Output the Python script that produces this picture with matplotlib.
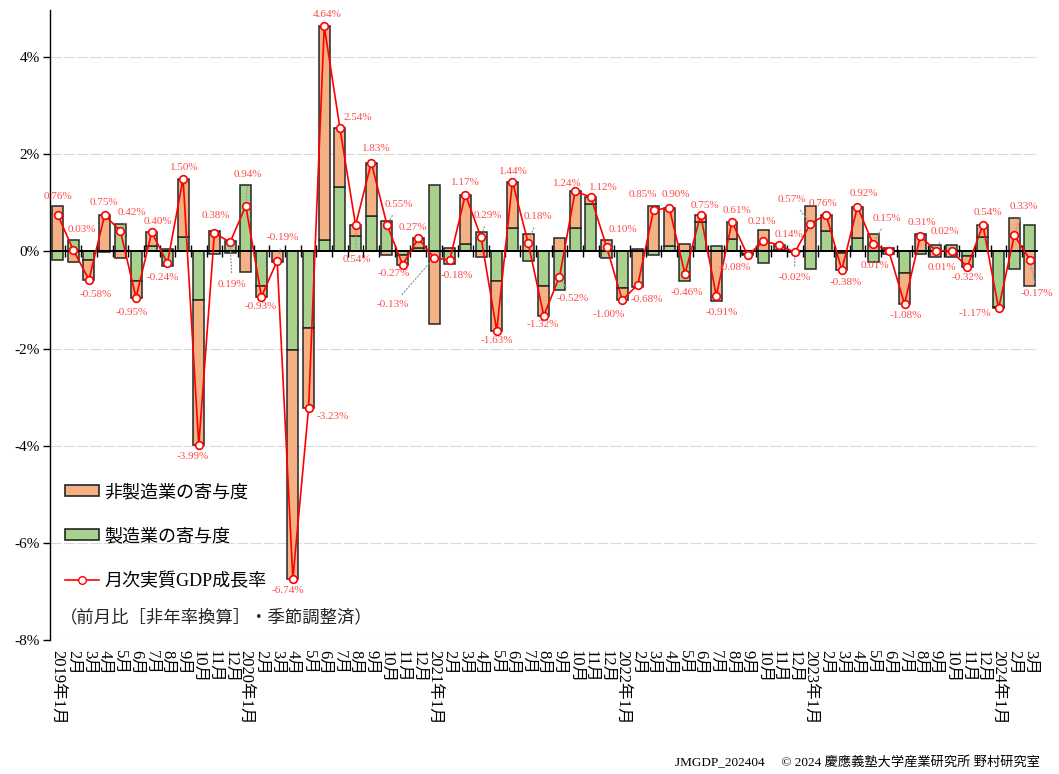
import numpy as np
import matplotlib.pyplot as plt
from matplotlib.patches import Patch
from matplotlib.lines import Line2D

plt.rcParams['font.family'] = ['Liberation Serif', 'Noto Sans CJK JP', 'DejaVu Sans']

# 2019年1月 .. 2024年3月
years = [2019] * 12 + [2020] * 12 + [2021] * 12 + [2022] * 12 + [2023] * 12 + [2024] * 3
months = list(range(1, 13)) * 5 + [1, 2, 3]

gdp = [0.76, 0.03, -0.58, 0.75, 0.42, -0.95, 0.40, -0.24, 1.50, -3.99, 0.38, 0.19,
       0.94, -0.93, -0.19, -6.74, -3.23, 4.64, 2.54, 0.54, 1.83, 0.55, -0.27, 0.27,
       -0.13, -0.18, 1.17, 0.29, -1.63, 1.44, 0.18, -1.32, -0.52, 1.24, 1.12, 0.10,
       -1.00, -0.68, 0.85, 0.90, -0.46, 0.75, -0.91, 0.61, -0.08, 0.21, 0.14, -0.02,
       0.57, 0.76, -0.38, 0.92, 0.15, 0.01, -1.08, 0.31, 0.02, 0.01, -0.32, 0.54,
       -1.17, 0.33, -0.17]

manu = [-0.17, 0.23, -0.17, -0.01, 0.56, -0.61, 0.12, -0.29, 0.30, -0.99, -0.05, 0.22,
        1.36, -0.71, 0.02, -2.03, -1.57, 0.24, 1.33, 0.32, 0.74, 0.62, -0.07, 0.08,
        1.37, -0.26, 0.16, 0.41, -0.61, 0.49, -0.19, -0.71, -0.79, 0.48, 0.97, -0.14,
        -0.75, 0.05, -0.08, 0.12, -0.61, 0.60, 0.11, 0.25, -0.05, -0.24, 0.04, -0.01,
        -0.36, 0.43, -0.03, 0.27, -0.21, 0.07, -0.44, -0.06, 0.14, 0.13, -0.10, 0.30,
        -1.15, -0.36, 0.54]

nonmanu = [0.93, -0.21, -0.41, 0.76, -0.14, -0.34, 0.28, 0.05, 1.20, -3.00, 0.43, -0.03,
           -0.42, -0.22, -0.21, -4.71, -1.66, 4.40, 1.21, 0.22, 1.09, -0.07, -0.20, 0.19,
           -1.50, 0.08, 1.01, -0.12, -1.02, 0.95, 0.37, -0.61, 0.27, 0.76, 0.15, 0.24,
           -0.25, -0.73, 0.93, 0.78, 0.15, 0.15, -1.02, 0.36, -0.03, 0.45, 0.10, -0.01,
           0.93, 0.33, -0.35, 0.65, 0.36, -0.06, -0.64, 0.37, -0.12, -0.12, -0.22, 0.24,
           -0.02, 0.69, -0.71]

# label offsets in pixels (dx, dy downwards), and whether a leader line is drawn
label_dx = [0, 9, 7, -1, 12, -4, 6, -5, 1, -6, 1, 2,
            2, -1, 6, -5, 24, 3, 18, 1, 5, 12, -9, -5,
            -41, 7, 0, 7, 0, 1, 10, -1, 13, -8, 13, 16,
            -13, 9, -11, 7, 2, 4, 5, 5, -13, -1, 10, 0,
            -18, -3, 4, 6, 14, -14, 1, 2, 9, -10, 0, 5,
            -24, 10, 7]
label_dy = [-18, -21, 15, -13, -19, 15, -11, 14, -11, 11, -18, 42,
            -31, 10, -23, 12, 8, -12, -11, 34, -14, -20, 9, -11,
            47, 15, -12, -22, 10, -10, -26, 9, 22, -8, -10, -17,
            14, 15, -16, -13, 19, -10, 17, -11, 12, -20, -10, 25,
            -24, -11, 13, -13, -26, 14, 12, -14, -19, 16, 10, -13,
            5, -29, 34]
leader = {4, 11, 12, 14, 19, 21, 24, 27, 30, 32, 47, 48, 52, 56, 61, 62}

orange = '#F4B183'
green = '#A9D18E'
red = '#FF0000'
lab_red = '#FF4B4B'

x = np.arange(len(gdp))
manu = np.array(manu)
nonmanu = np.array(nonmanu)
bottom_nm = np.where(np.sign(manu) == np.sign(nonmanu), manu, 0)

fig = plt.figure(figsize=(10.59, 7.74), dpi=100)
ax = fig.add_axes([0.047, 0.173, 0.933, 0.814])

ax.bar(x, manu, width=0.7, color=green, edgecolor='#262626', linewidth=1.1, zorder=2)
ax.bar(x, nonmanu, bottom=bottom_nm, width=0.7, color=orange, edgecolor='#262626',
       linewidth=1.1, zorder=2)

ax.axhline(0, color='black', lw=1.4, zorder=3)
ax.plot(x[:-1] + 0.5, np.zeros(len(x) - 1), ls='none', marker='|', ms=9, mew=1,
        color='black', zorder=3)

ax.plot(x, gdp, color=red, lw=1.2, marker='o', ms=5.5, mfc='white', mec=red,
        mew=1.2, zorder=4)

for i, v in enumerate(gdp):
    props = None
    if i in leader:
        props = dict(arrowstyle='-', color='#999999', ls=':', lw=0.9,
                     shrinkA=3, shrinkB=4)
    ax.annotate(f'{v:.2f}%', (i, v), xytext=(label_dx[i], -label_dy[i]),
                textcoords='offset pixels', ha='center', va='center',
                fontsize=8, color=lab_red, arrowprops=props, zorder=5)

ax.set_xlim(-0.5, len(gdp) - 0.5)
ax.set_ylim(-8, 4.97)
ax.set_yticks([-8, -6, -4, -2, 0, 2, 4])
ax.set_yticklabels([f'{t}%' for t in [-8, -6, -4, -2, 0, 2, 4]], fontsize=11)
ax.yaxis.grid(True, color='#d9d9d9', lw=0.8, ls=(0, (10, 2)), zorder=0)
ax.set_axisbelow(True)

xlabels = [f'{y}年{m}月' if m == 1 else f'{m}月' for y, m in zip(years, months)]
ax.set_xticks(x)
ax.set_xticklabels(xlabels, rotation=-90, va='top', ha='center', fontsize=12)
ax.tick_params(axis='x', length=0, pad=7)
ax.tick_params(axis='y', length=5, width=1, direction='out', pad=2)

for s in ['top', 'right', 'bottom']:
    ax.spines[s].set_visible(False)
ax.spines['left'].set_color('black')
ax.spines['left'].set_linewidth(1)

handles = [Patch(facecolor=orange, edgecolor='#262626', linewidth=1.2),
           Patch(facecolor=green, edgecolor='#262626', linewidth=1.2),
           Line2D([], [], color=red, lw=1.2, marker='o', ms=5.5, mfc='white', mec=red)]
labels = ['非製造業の寄与度', '製造業の寄与度', '月次実質GDP成長率']
fig.legend(handles, labels, loc='upper left', bbox_to_anchor=(65 / 1059, 1 - 484 / 774),
           frameon=False, fontsize=13, labelspacing=1.5, handlelength=1.9,
           handleheight=0.6, handletextpad=0.3, borderpad=0, borderaxespad=0)
fig.text(60 / 1059, 1 - 618 / 774, '（前月比［非年率換算］・季節調整済）', fontsize=12.5,
         ha='left', va='center', color='#262626')

fig.text(1040 / 1059, 1 - 762 / 774, 'JMGDP_202404　 © 2024 慶應義塾大学産業研究所 野村研究室',
         fontsize=9.5, ha='right', va='center')

fig.savefig('out.png', dpi=100)
